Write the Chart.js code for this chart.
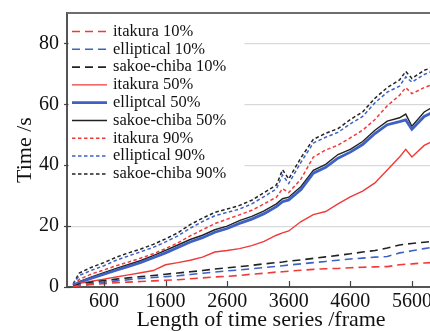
<!DOCTYPE html>
<html>
<head>
<meta charset="utf-8">
<script src="https://cdn.jsdelivr.net/npm/chart.js@4"></script>
<style>
html,body{margin:0;padding:0;background:#fff;overflow:hidden;}
#wrap{width:460px;height:331px;}
</style>
</head>
<body>
<div id="wrap"><canvas id="c" width="460" height="331"></canvas></div>
<script>
const frames = [100,200,400,600,800,1000,1200,1400,1600,1800,2000,2200,2400,2600,2800,3000,3200,3400,3500,3600,3800,4000,4200,4400,4600,4800,5000,5200,5400,5500,5600,5800,6000];

const itakura10 = [0.1,0.4,0.8,1.1,1.4,1.6,1.8,2.0,2.2,2.4,2.7,3.0,3.3,3.5,3.8,4.2,4.5,4.9,5.0,5.2,5.5,5.8,6.0,6.1,6.3,6.5,6.6,6.7,7.3,7.5,7.6,7.9,8.1];
const elliptical10 = [0.1,0.6,1.1,1.6,2.0,2.4,2.8,3.1,3.4,3.7,4.1,4.5,4.9,5.3,5.6,6.0,6.4,6.8,7.0,7.2,7.6,8.0,8.4,8.8,9.2,9.5,9.8,10.0,11.2,11.5,11.9,12.6,13.2];
const sakoe10 = [0.2,1.0,1.6,2.1,2.6,3.0,3.4,3.8,4.2,4.6,5.0,5.4,5.9,6.3,6.7,7.1,7.6,8.0,8.2,8.5,8.9,9.4,9.9,10.4,10.9,11.5,12.0,12.8,13.8,14.1,14.3,14.7,15.1];
const itakura50 = [0.3,1.2,1.9,2.6,3.3,4.0,4.7,5.4,7.3,8.0,8.8,9.8,11.5,12.0,12.6,13.6,15.0,17.0,17.8,18.4,21.5,23.8,24.8,27.3,29.6,31.5,34.2,38.4,42.7,45.2,42.7,46.5,48.5];
const elliptical50 = [0.4,1.5,2.9,4.2,5.5,6.8,8.1,9.6,11.2,13.0,14.8,16.2,18.0,19.2,20.9,22.3,24.1,26.4,28.0,28.6,32.0,37.4,39.3,42.3,44.3,46.8,50.4,53.3,54.3,54.9,51.8,56.0,58.0];
const sakoe50 = [0.5,1.8,3.3,4.7,6.1,7.4,8.7,10.3,12.0,13.8,15.6,17.0,18.8,20.0,21.8,23.2,25.0,27.3,29.0,29.5,33.0,38.3,40.3,43.5,45.2,47.8,51.5,54.5,55.6,56.8,52.8,57.5,59.8];
const itakura90 = [0.5,2.5,4.3,5.6,7.0,8.2,9.5,10.9,12.6,14.5,16.8,18.8,20.8,22.3,23.7,25.2,27.3,29.5,32.3,31.0,35.5,42.7,45.0,46.6,49.0,51.5,55.0,59.5,63.0,65.5,63.5,65.5,67.0];
const elliptical90 = [0.8,3.8,5.5,7.0,8.8,10.2,11.6,13.0,14.8,16.8,19.3,21.5,23.4,24.5,25.6,27.3,29.7,32.2,36.8,34.0,41.0,47.3,49.2,50.8,53.6,56.0,60.5,64.0,66.0,69.0,67.3,69.8,71.5];
const sakoe90 = [1.0,4.6,6.5,8.0,9.8,11.2,12.5,14.0,15.8,17.8,20.5,22.6,24.5,25.6,26.8,28.5,31.0,33.5,38.5,35.5,42.5,48.5,50.5,52.0,55.0,57.5,62.0,65.5,68.0,70.8,68.5,71.2,72.5];

const xTicks = [600,1600,2600,3600,4600,5600];
const yTicks = [0,20,40,60,80];

const RED = '#f03a3a', BLUE = '#3d62c4', BLACK = '#222222';
const DASH = [8,5], DOT = [3.5,2.5];

function pts(v){ return frames.map((f,i)=>({x:f,y:v[i]})); }
function ds(label, v, color, dash, width){
  return {label, data: pts(v), borderColor: color, backgroundColor: color, borderDash: dash, borderWidth: width, pointRadius: 0, tension: 0, fill: false};
}

const datasets = [
  ds('itakura 10%', itakura10, RED, DASH, 1.6),
  ds('elliptical 10%', elliptical10, BLUE, DASH, 1.6),
  ds('sakoe-chiba 10%', sakoe10, BLACK, DASH, 1.6),
  ds('itakura 50%', itakura50, RED, [], 1.4),
  ds('elliptcal 50%', elliptical50, BLUE, [], 2.8),
  ds('sakoe-chiba 50%', sakoe50, BLACK, [], 1.4),
  ds('itakura 90%', itakura90, RED, DOT, 1.5),
  ds('elliptical 90%', elliptical90, BLUE, DOT, 1.5),
  ds('sakoe-chiba 90%', sakoe90, BLACK, DOT, 1.5)
];

const SERIF = "'Liberation Serif', 'Times New Roman', serif";

const framePlugin = {
  id: 'framePlugin',
  afterDatasetsDraw(chart){
    const ctx = chart.ctx, a = chart.chartArea;
    const xs = chart.scales.x, ys = chart.scales.y;
    ctx.save();
    ctx.strokeStyle = '#6e6e6e'; ctx.lineWidth = 2;
    ctx.beginPath(); ctx.moveTo(a.left, a.top); ctx.lineTo(a.right, a.top); ctx.stroke();
    ctx.beginPath(); ctx.moveTo(a.right, a.top); ctx.lineTo(a.right, a.bottom); ctx.stroke();
    ctx.strokeStyle = '#444'; ctx.lineWidth = 1.2;
    xTicks.forEach(v=>{ const px = Math.round(xs.getPixelForValue(v))+0.5; ctx.beginPath(); ctx.moveTo(px, a.bottom); ctx.lineTo(px, a.bottom-6); ctx.stroke(); });
    yTicks.forEach(v=>{ const py = Math.round(ys.getPixelForValue(v))+0.5; ctx.beginPath(); ctx.moveTo(a.left-3, py); ctx.lineTo(a.left+4, py); ctx.stroke(); });
    ctx.fillStyle = '#ffffff';
    ctx.fillRect(a.left+1.5, a.top+1.5, 176, 168);
    ctx.font = "16.5px " + SERIF;
    ctx.textBaseline = 'middle';
    chart.data.datasets.forEach((d,i)=>{
      const y = a.top + 18.5 + i*17.8;
      ctx.strokeStyle = d.borderColor; ctx.lineWidth = d.borderWidth;
      ctx.setLineDash(d.borderDash);
      ctx.beginPath(); ctx.moveTo(a.left+5, y); ctx.lineTo(a.left+40, y); ctx.stroke();
      ctx.setLineDash([]);
      ctx.fillStyle = '#111';
      ctx.fillText(d.label, a.left+46, y);
    });
    ctx.restore();
  }
};

new Chart(document.getElementById('c'), {
  type: 'line',
  data: { datasets },
  plugins: [framePlugin],
  options: {
    responsive: false,
    animation: false,
    devicePixelRatio: 1,
    layout: { padding: { top: 13, right: 5, left: 0, bottom: 0 } },
    plugins: { legend: { display: false }, tooltip: { enabled: false } },
    scales: {
      x: {
        type: 'linear', min: 0, max: 6300,
        afterBuildTicks: s => { s.ticks = xTicks.map(v=>({value:v})); },
        afterFit: s => { s.height = 44; s.paddingLeft = 0; s.paddingRight = 0; },
        grid: { display: false, drawTicks: false },
        border: { display: true, color: '#555', width: 2 },
        ticks: { color: '#111', font: { family: SERIF, size: 20 }, padding: 3, maxRotation: 0, autoSkip: false, callback: v => String(v) },
        title: { display: true, text: 'Length of time series /frame', color: '#111', font: { family: SERIF, size: 22, lineHeight: 1 }, padding: { top: 0, bottom: 0 } }
      },
      y: {
        min: 0, max: 90,
        afterBuildTicks: s => { s.ticks = yTicks.map(v=>({value:v})); },
        afterFit: s => { s.width = 67; s.paddingTop = 0; s.paddingBottom = 0; },
        grid: { color: '#d9d9d9', lineWidth: 1.2, drawTicks: false },
        border: { display: true, color: '#555', width: 2 },
        ticks: { color: '#111', font: { family: SERIF, size: 20 }, padding: 8, callback: v => String(v) },
        title: { display: true, text: 'Time /s', color: '#111', font: { family: SERIF, size: 22, lineHeight: 1 }, padding: { top: 14, bottom: 0 } }
      }
    }
  }
});
</script>
</body>
</html>
